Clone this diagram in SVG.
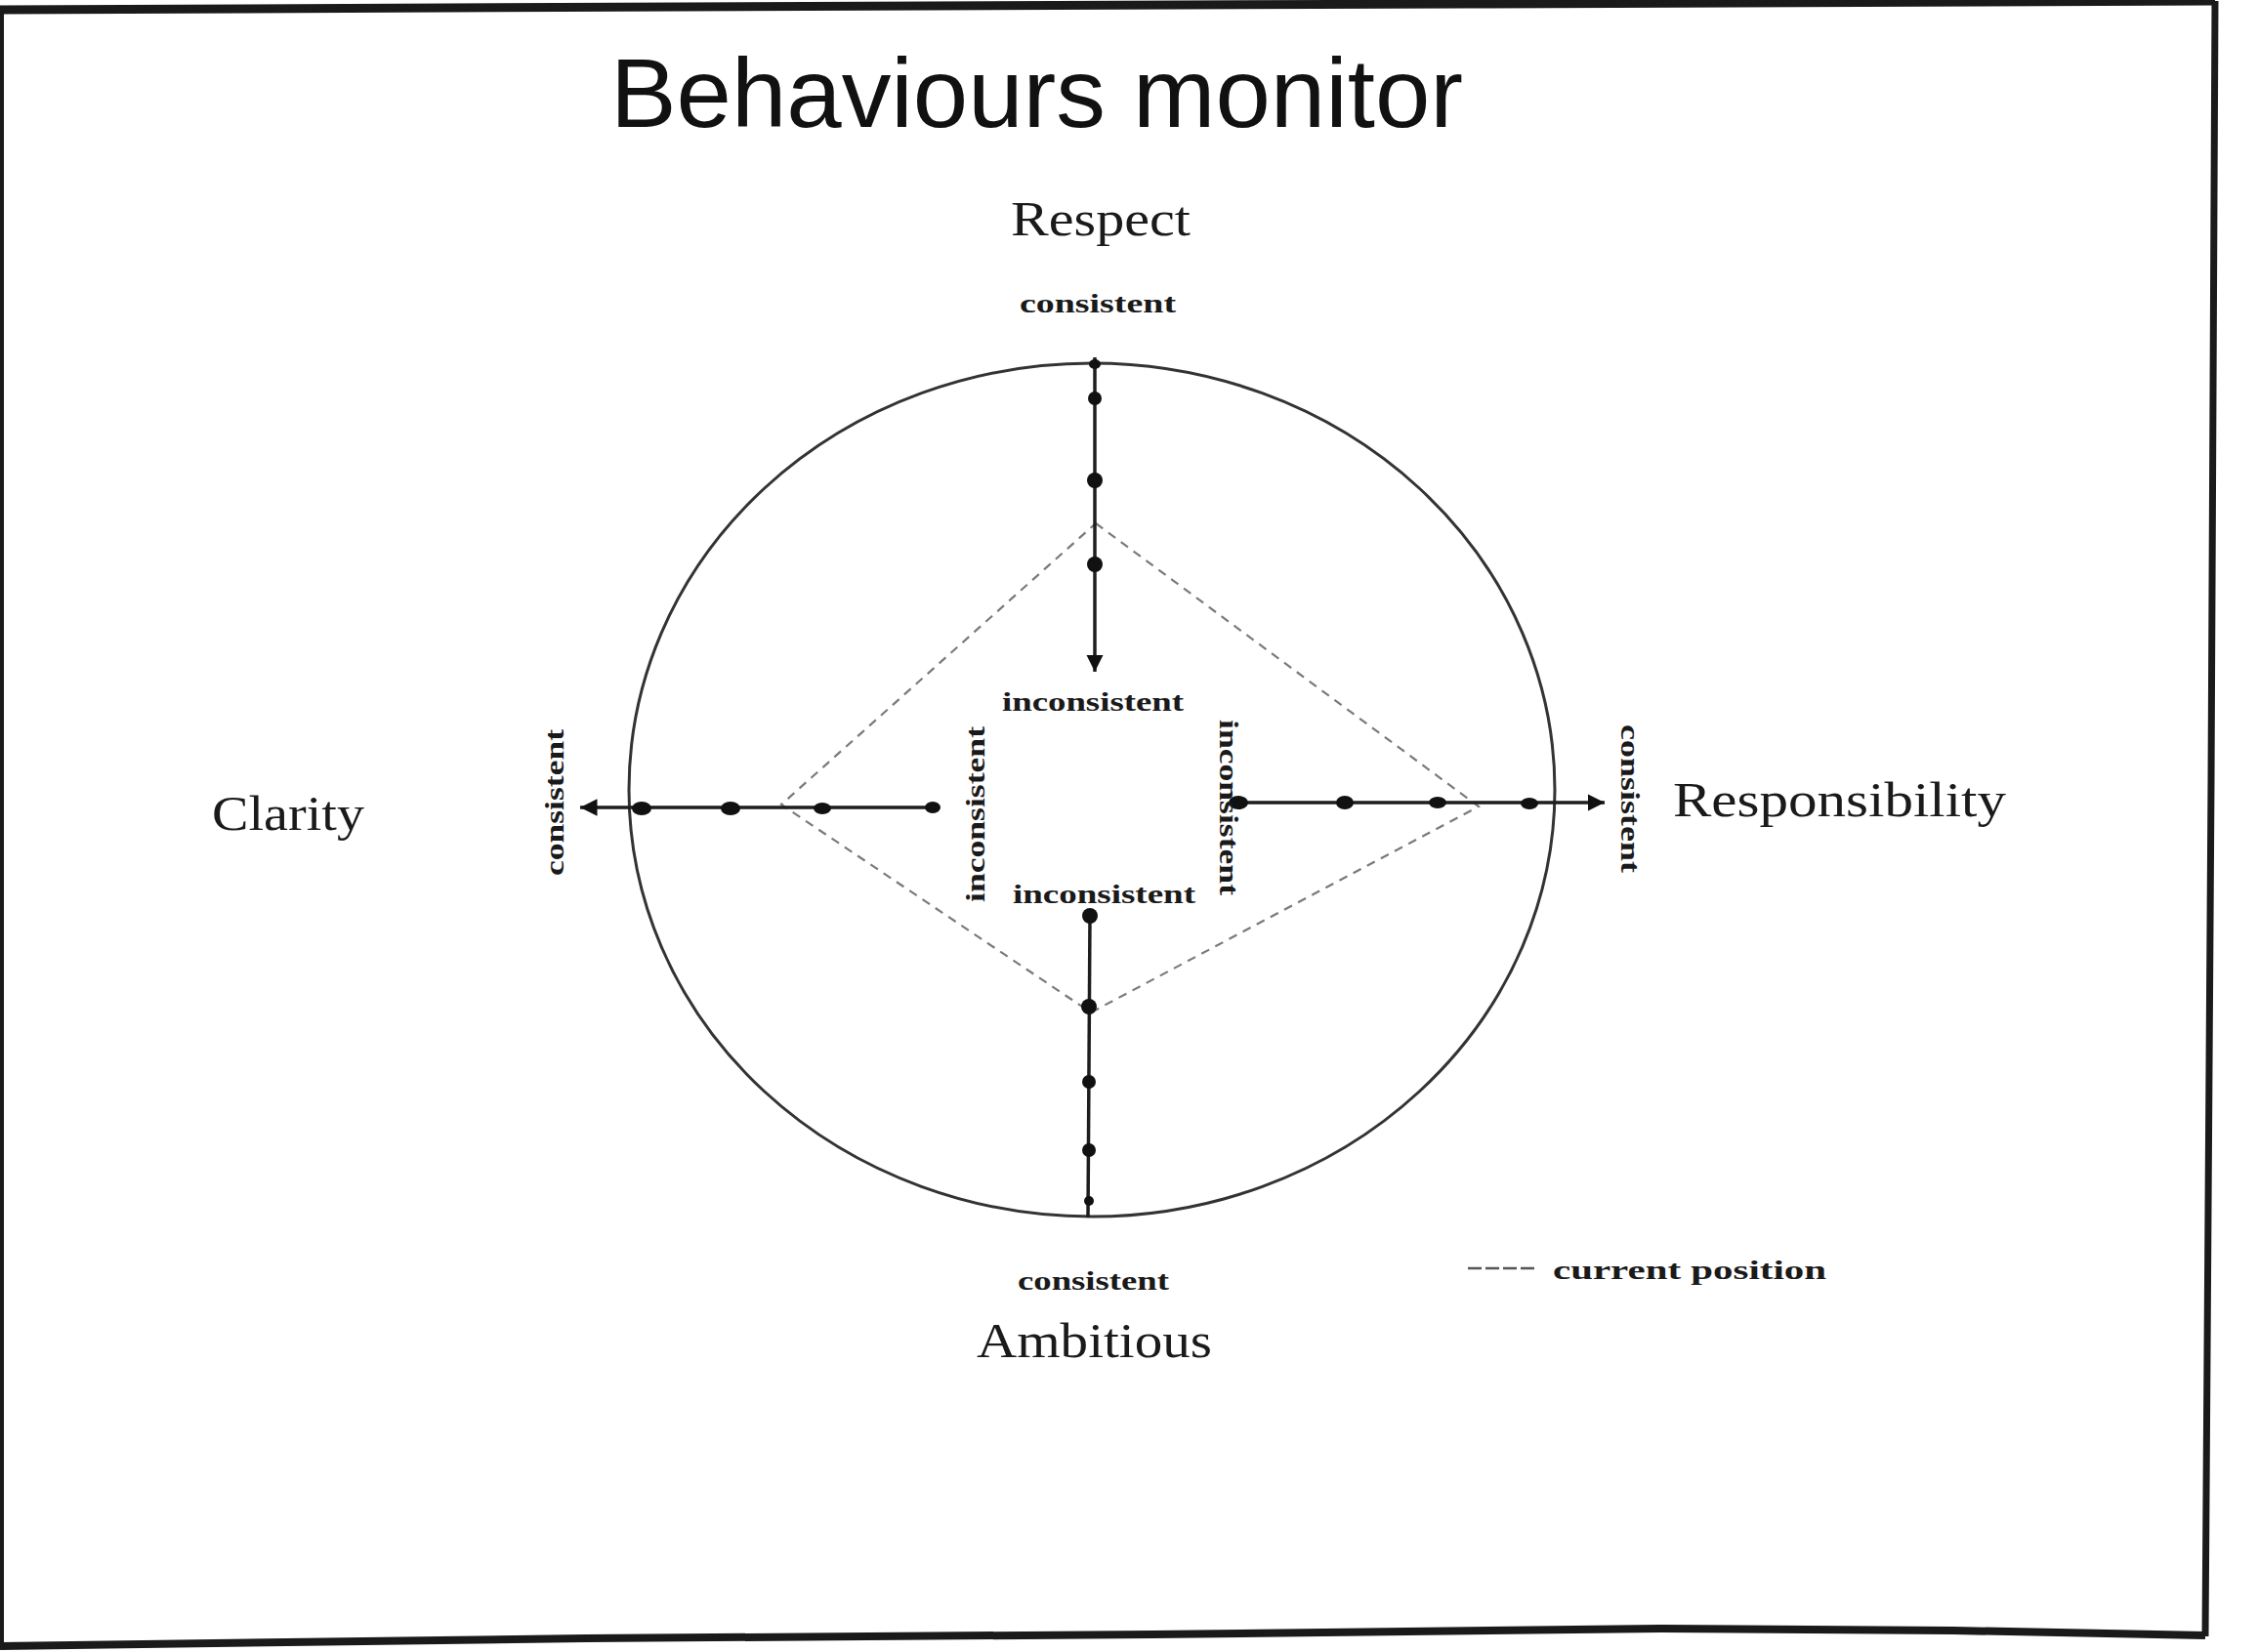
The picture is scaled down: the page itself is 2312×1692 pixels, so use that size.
<svg xmlns="http://www.w3.org/2000/svg" width="2312" height="1692" viewBox="0 0 2312 1692">
  <style>
    .frame { fill: none; stroke: #1a1a1a; stroke-linejoin: round; }
    .ring { fill: none; stroke: #333; stroke-width: 3; }
    .axis { stroke: #1e1e1e; stroke-width: 3.5; fill: none; }
    .dot { fill: #111; }
    .track { fill: none; stroke: #7a7a7a; stroke-width: 2.2; stroke-dasharray: 9 7; }
    .key { fill: none; stroke: #555; stroke-width: 2.4; stroke-dasharray: 14 4; }
    .title { font-family: "Liberation Sans", Arial, sans-serif; font-size: 100px; fill: #111; }
    .value { font-family: "Liberation Serif", "Times New Roman", serif; font-size: 50px; fill: #1a1a1a; }
    .scale { font-family: "Liberation Serif", "Times New Roman", serif; font-size: 27px; font-weight: bold; fill: #1a1a1a; }
  </style>
  <defs>
    <marker id="tip" viewBox="0 0 10 10" refX="10" refY="5" markerWidth="5" markerHeight="5" markerUnits="strokeWidth" orient="auto">
      <path d="M0,0 L10,5 L0,10 Z" fill="#111"/>
    </marker>
  </defs>

  <rect x="0" y="0" width="2312" height="1692" fill="#ffffff"/>

  <!-- slide frame -->
  <g id="frame">
    <path class="frame" stroke-width="9" d="M0,10 L700,7 L1500,4 L2268,1"/>
    <path class="frame" stroke-width="4" d="M2,8 L2,1688"/>
    <path class="frame" stroke-width="7" d="M2268,1 L2264,800 L2258,1676"/>
    <path class="frame" stroke-width="8" d="M0,1686 L600,1678 L1180,1674 L1700,1668 L2000,1670 L2258,1675"/>
  </g>

  <g id="title">
    <text class="title" x="625" y="130" textLength="873" lengthAdjust="spacingAndGlyphs">Behaviours monitor</text>
  </g>

  <!-- outer boundary -->
  <g id="boundary">
    <ellipse class="ring" cx="1118" cy="809" rx="474" ry="437"/>
  </g>

  <!-- current position polygon -->
  <g id="current-position">
    <path class="track" d="M1122,536 L1514,826 L1117,1037 L800,824 Z"/>
  </g>

  <g id="connectors">
    <!-- Respect axis: consistent (top) to inconsistent (centre) -->
    <line class="axis" x1="1121" y1="366" x2="1121" y2="688" marker-end="url(#tip)"/>
    <!-- Clarity axis -->
    <line class="axis" x1="957" y1="827" x2="594" y2="827" marker-end="url(#tip)"/>
    <!-- Responsibility axis -->
    <line class="axis" x1="1263" y1="822" x2="1643" y2="822" marker-end="url(#tip)"/>
    <!-- Ambitious axis -->
    <line class="axis" x1="1116" y1="938" x2="1114" y2="1247"/>
  </g>

  <!-- scale points -->
  <g id="points-respect">
    <ellipse class="dot" cx="1121" cy="373" rx="6" ry="5"/>
    <ellipse class="dot" cx="1121" cy="408" rx="7" ry="7"/>
    <ellipse class="dot" cx="1121" cy="492" rx="8" ry="8"/>
    <ellipse class="dot" cx="1121" cy="578" rx="8" ry="8"/>
  </g>
  <g id="points-clarity">
    <ellipse class="dot" cx="657" cy="828" rx="10" ry="7"/>
    <ellipse class="dot" cx="748" cy="828" rx="10" ry="7"/>
    <ellipse class="dot" cx="842" cy="828" rx="9" ry="6"/>
    <ellipse class="dot" cx="955" cy="827" rx="8" ry="6"/>
  </g>
  <g id="points-responsibility">
    <ellipse class="dot" cx="1268" cy="822" rx="10" ry="7"/>
    <ellipse class="dot" cx="1377" cy="822" rx="9" ry="7"/>
    <ellipse class="dot" cx="1472" cy="822" rx="9" ry="6"/>
    <ellipse class="dot" cx="1566" cy="823" rx="9" ry="6"/>
  </g>
  <g id="points-ambitious">
    <ellipse class="dot" cx="1116" cy="938" rx="8" ry="8"/>
    <ellipse class="dot" cx="1115" cy="1031" rx="8" ry="8"/>
    <ellipse class="dot" cx="1115" cy="1108" rx="7" ry="7"/>
    <ellipse class="dot" cx="1115" cy="1178" rx="7" ry="7"/>
    <ellipse class="dot" cx="1115" cy="1230" rx="5" ry="5"/>
  </g>

  <!-- value labels -->
  <g id="node-respect">
    <text class="value" x="1035" y="241" textLength="184" lengthAdjust="spacingAndGlyphs">Respect</text>
    <text class="scale" x="1044" y="320" textLength="160" lengthAdjust="spacingAndGlyphs">consistent</text>
    <text class="scale" x="1026" y="728" textLength="186" lengthAdjust="spacingAndGlyphs">inconsistent</text>
  </g>
  <g id="node-clarity">
    <text class="value" x="217" y="850" textLength="156" lengthAdjust="spacingAndGlyphs">Clarity</text>
    <text class="scale" transform="translate(577,822) rotate(-90)" text-anchor="middle" textLength="150" lengthAdjust="spacingAndGlyphs">consistent</text>
    <text class="scale" transform="translate(1008,834) rotate(-90)" text-anchor="middle" textLength="180" lengthAdjust="spacingAndGlyphs">inconsistent</text>
  </g>
  <g id="node-responsibility">
    <text class="value" x="1713" y="836" textLength="341" lengthAdjust="spacingAndGlyphs">Responsibility</text>
    <text class="scale" transform="translate(1249,827) rotate(90)" text-anchor="middle" textLength="180" lengthAdjust="spacingAndGlyphs">inconsistent</text>
    <text class="scale" transform="translate(1660,818) rotate(90)" text-anchor="middle" textLength="152" lengthAdjust="spacingAndGlyphs">consistent</text>
  </g>
  <g id="node-ambitious">
    <text class="scale" x="1037" y="925" textLength="187" lengthAdjust="spacingAndGlyphs">inconsistent</text>
    <text class="scale" x="1042" y="1321" textLength="155" lengthAdjust="spacingAndGlyphs">consistent</text>
    <text class="value" x="1000" y="1390" textLength="241" lengthAdjust="spacingAndGlyphs">Ambitious</text>
  </g>

  <!-- legend -->
  <g id="legend">
    <line class="key" x1="1503" y1="1299" x2="1572" y2="1299"/>
    <text class="scale" x="1590" y="1310" textLength="280" lengthAdjust="spacingAndGlyphs">current position</text>
  </g>
</svg>
